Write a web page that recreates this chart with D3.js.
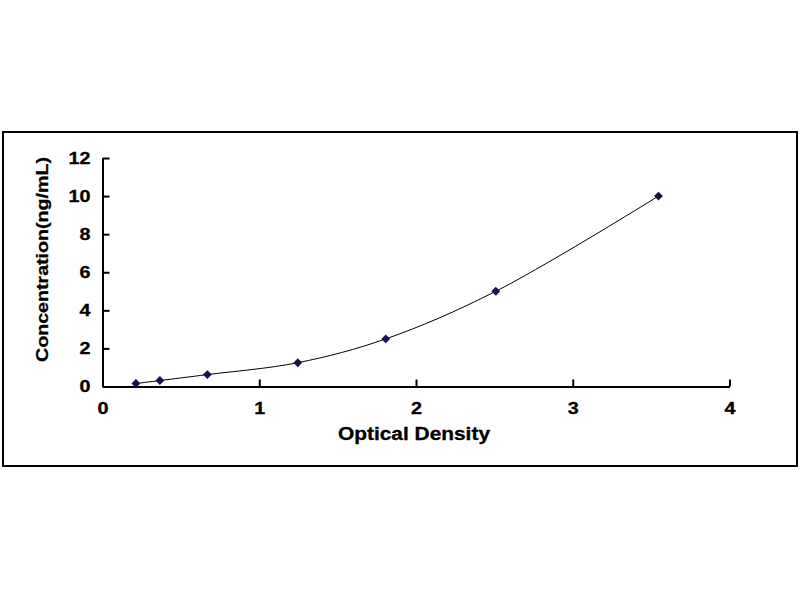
<!DOCTYPE html>
<html>
<head>
<meta charset="utf-8">
<script src="https://cdn.jsdelivr.net/npm/d3@7"></script>
<style>
  body { margin: 0; background: #fff; }
  text { font-family: "Liberation Sans", Arial, sans-serif; font-weight: bold; fill: #000; }
</style>
</head>
<body>
<div id="chart"></div>
<script>
// standard curve readings
const opticalDensity = [0.213, 0.366, 0.669, 1.246, 1.807, 2.509, 3.547];
const concentration = [0.156, 0.313, 0.625, 1.25, 2.5, 5, 10];
const xTicks = [0, 1, 2, 3, 4];
const yTicks = [0, 2, 4, 6, 8, 10, 12];

const width = 800, height = 600;

const svg = d3.select("#chart").append("svg")
    .attr("width", width)
    .attr("height", height);

// outer frame
svg.append("rect")
    .attr("x", 3).attr("y", 132)
    .attr("width", 794).attr("height", 334)
    .attr("fill", "#fff")
    .attr("stroke", "#000")
    .attr("stroke-width", 2);

const x = d3.scaleLinear().domain([0, 4]).range([102.5, 729.5]);
const y = d3.scaleLinear().domain([0, 12]).range([386.5, 158]);

// axes, ticks point inward
const xAxis = svg.append("g")
    .attr("transform", "translate(0," + y(0) + ")")
    .call(d3.axisBottom(x).tickValues(xTicks).tickFormat(d3.format("d"))
        .tickSize(-7).tickPadding(16).tickSizeOuter(0));

const yAxis = svg.append("g")
    .attr("transform", "translate(" + x(0) + ",0)")
    .call(d3.axisLeft(y).tickValues(yTicks).tickFormat(d3.format("d"))
        .tickSize(-7).tickPadding(12).tickSizeOuter(0));

// the original lettering is a bit wider than Liberation, so stretch it
const digitWidth = 11;

[xAxis, yAxis].forEach(function (g) {
    g.select(".domain").attr("stroke", "#000").attr("stroke-width", 2);
    g.selectAll(".tick line").attr("stroke", "#000").attr("stroke-width", 2);
    g.selectAll(".tick text")
        .attr("font-size", 16.5)
        .attr("font-family", "Liberation Sans, Arial, sans-serif")
        .attr("font-weight", "bold")
        .attr("fill", "#000")
        .attr("stroke", "#000")
        .attr("stroke-width", 0.3)
        .attr("textLength", function (d) { return String(d).length * digitWidth; })
        .attr("lengthAdjust", "spacingAndGlyphs");
});

// axis titles
svg.append("text")
    .attr("x", 414).attr("y", 440)
    .attr("text-anchor", "middle")
    .attr("font-size", 18)
    .attr("stroke", "#000")
    .attr("stroke-width", 0.3)
    .attr("textLength", 152)
    .attr("lengthAdjust", "spacingAndGlyphs")
    .text("Optical Density");

svg.append("text")
    .attr("transform", "translate(48,259.5) rotate(-90)")
    .attr("text-anchor", "middle")
    .attr("font-size", 17)
    .attr("stroke", "#000")
    .attr("stroke-width", 0.3)
    .attr("textLength", 205)
    .attr("lengthAdjust", "spacingAndGlyphs")
    .text("Concentration(ng/mL)");

const points = opticalDensity.map(function (d, i) { return [d, concentration[i]]; });

// fitted curve through the standards
const line = d3.line()
    .x(function (d) { return x(d[0]); })
    .y(function (d) { return y(d[1]); })
    .curve(d3.curveCatmullRom.alpha(0.5));

svg.append("path")
    .datum(points)
    .attr("d", line)
    .attr("fill", "none")
    .attr("stroke", "#000")
    .attr("stroke-width", 1);

svg.selectAll(".pt")
    .data(points)
    .enter().append("path")
    .attr("class", "pt")
    .attr("transform", function (d) { return "translate(" + x(d[0]) + "," + y(d[1]) + ")"; })
    .attr("d", d3.symbol().type(d3.symbolDiamond2).size(50))
    .attr("fill", "#14144a");
</script>
</body>
</html>
